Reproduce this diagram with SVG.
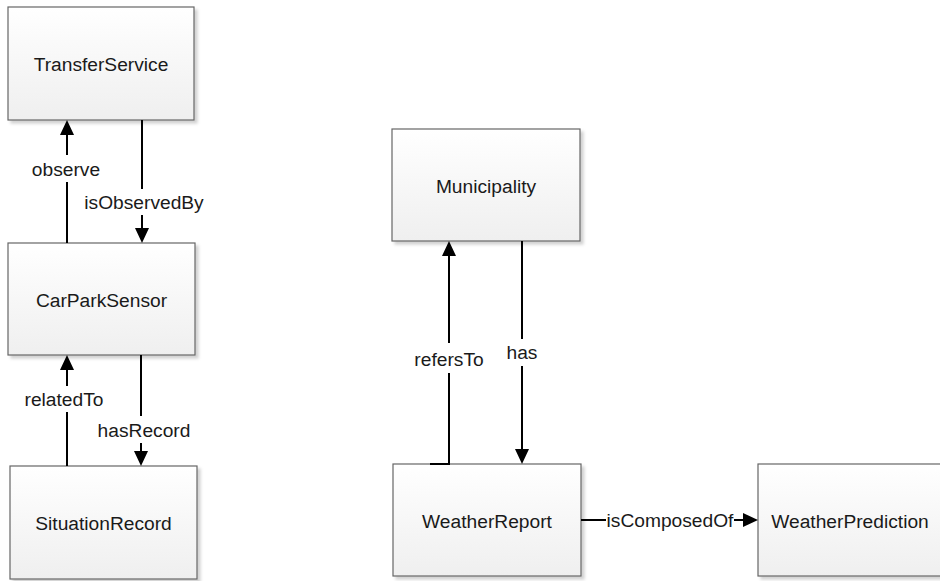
<svg xmlns="http://www.w3.org/2000/svg" width="940" height="581" viewBox="0 0 940 581">
  <style>
    .box { fill: url(#boxFill); stroke: #666666; stroke-width: 1.2; filter: url(#shadow); }
    .name { font-family: "Liberation Sans", Arial, sans-serif; font-size: 19.2px; fill: #1a1a1a; text-anchor: middle; }
    .edge { fill: none; stroke: #000000; stroke-width: 2; }
    .lbl { font-family: "Liberation Sans", Arial, sans-serif; font-size: 19.2px; fill: #1a1a1a; text-anchor: middle; }
    .lblbg { fill: #ffffff; }
  </style>
  <defs>
    <linearGradient id="boxFill" x1="0" y1="0" x2="0" y2="1">
      <stop offset="0" stop-color="#ffffff"/>
      <stop offset="1" stop-color="#efefef"/>
    </linearGradient>
    <filter id="shadow" x="-10%" y="-10%" width="125%" height="125%">
      <feDropShadow dx="3" dy="3" stdDeviation="1.5" flood-color="#000000" flood-opacity="0.18"/>
    </filter>
    <marker id="arrow" markerUnits="userSpaceOnUse" markerWidth="15" markerHeight="14" viewBox="0 0 15 14" refX="0" refY="7" orient="auto">
      <path d="M0,0 L15,7 L0,14 Z" fill="#000000"/>
    </marker>
  </defs>

  <rect width="940" height="581" fill="#ffffff"/>

  <!-- nodes -->
  <g id="TransferService">
    <rect class="box" x="8" y="7" width="186" height="113"/>
    <text class="name" x="101" y="71">TransferService</text>
  </g>
  <g id="CarParkSensor">
    <rect class="box" x="8" y="243" width="187" height="112"/>
    <text class="name" x="101.5" y="306.5">CarParkSensor</text>
  </g>
  <g id="SituationRecord">
    <rect class="box" x="10" y="466" width="187" height="113"/>
    <text class="name" x="103.5" y="530">SituationRecord</text>
  </g>
  <g id="Municipality">
    <rect class="box" x="392" y="129" width="188" height="112"/>
    <text class="name" x="486" y="192.5">Municipality</text>
  </g>
  <g id="WeatherReport">
    <rect class="box" x="393" y="464" width="188" height="112"/>
    <text class="name" x="487" y="527.5">WeatherReport</text>
  </g>
  <g id="WeatherPrediction">
    <rect class="box" x="758" y="464" width="190" height="112"/>
    <text class="name" x="850" y="527.5">WeatherPrediction</text>
  </g>

  <!-- connectors -->
  <g id="connectors">
    <!-- observe -->
    <path class="edge" d="M67,243 V135" marker-end="url(#arrow)"/>
    <rect class="lblbg" x="30" y="155" width="74" height="27"/>
    <text class="lbl" x="66" y="175.5">observe</text>

    <!-- isObservedBy -->
    <path class="edge" d="M142,120 V228" marker-end="url(#arrow)"/>
    <rect class="lblbg" x="83" y="189" width="123" height="26"/>
    <text class="lbl" x="144" y="208.5">isObservedBy</text>

    <!-- relatedTo -->
    <path class="edge" d="M67,466 V370" marker-end="url(#arrow)"/>
    <rect class="lblbg" x="21" y="386" width="88" height="26"/>
    <text class="lbl" x="64" y="405.5">relatedTo</text>

    <!-- hasRecord -->
    <path class="edge" d="M141,355 V451" marker-end="url(#arrow)"/>
    <rect class="lblbg" x="95" y="416" width="98" height="27"/>
    <text class="lbl" x="144" y="436.5">hasRecord</text>

    <!-- refersTo -->
    <path class="edge" d="M430,464 H449 V256" marker-end="url(#arrow)"/>
    <rect class="lblbg" x="411" y="343" width="76" height="30"/>
    <text class="lbl" x="449" y="365.5">refersTo</text>

    <!-- has -->
    <path class="edge" d="M522,241 V449" marker-end="url(#arrow)"/>
    <rect class="lblbg" x="503" y="339" width="38" height="27"/>
    <text class="lbl" x="522" y="358.5">has</text>

    <!-- isComposedOf -->
    <path class="edge" d="M581,520 H743" marker-end="url(#arrow)"/>
    <rect class="lblbg" x="606" y="507" width="128" height="27"/>
    <text class="lbl" x="670" y="527">isComposedOf</text>
  </g>
</svg>
